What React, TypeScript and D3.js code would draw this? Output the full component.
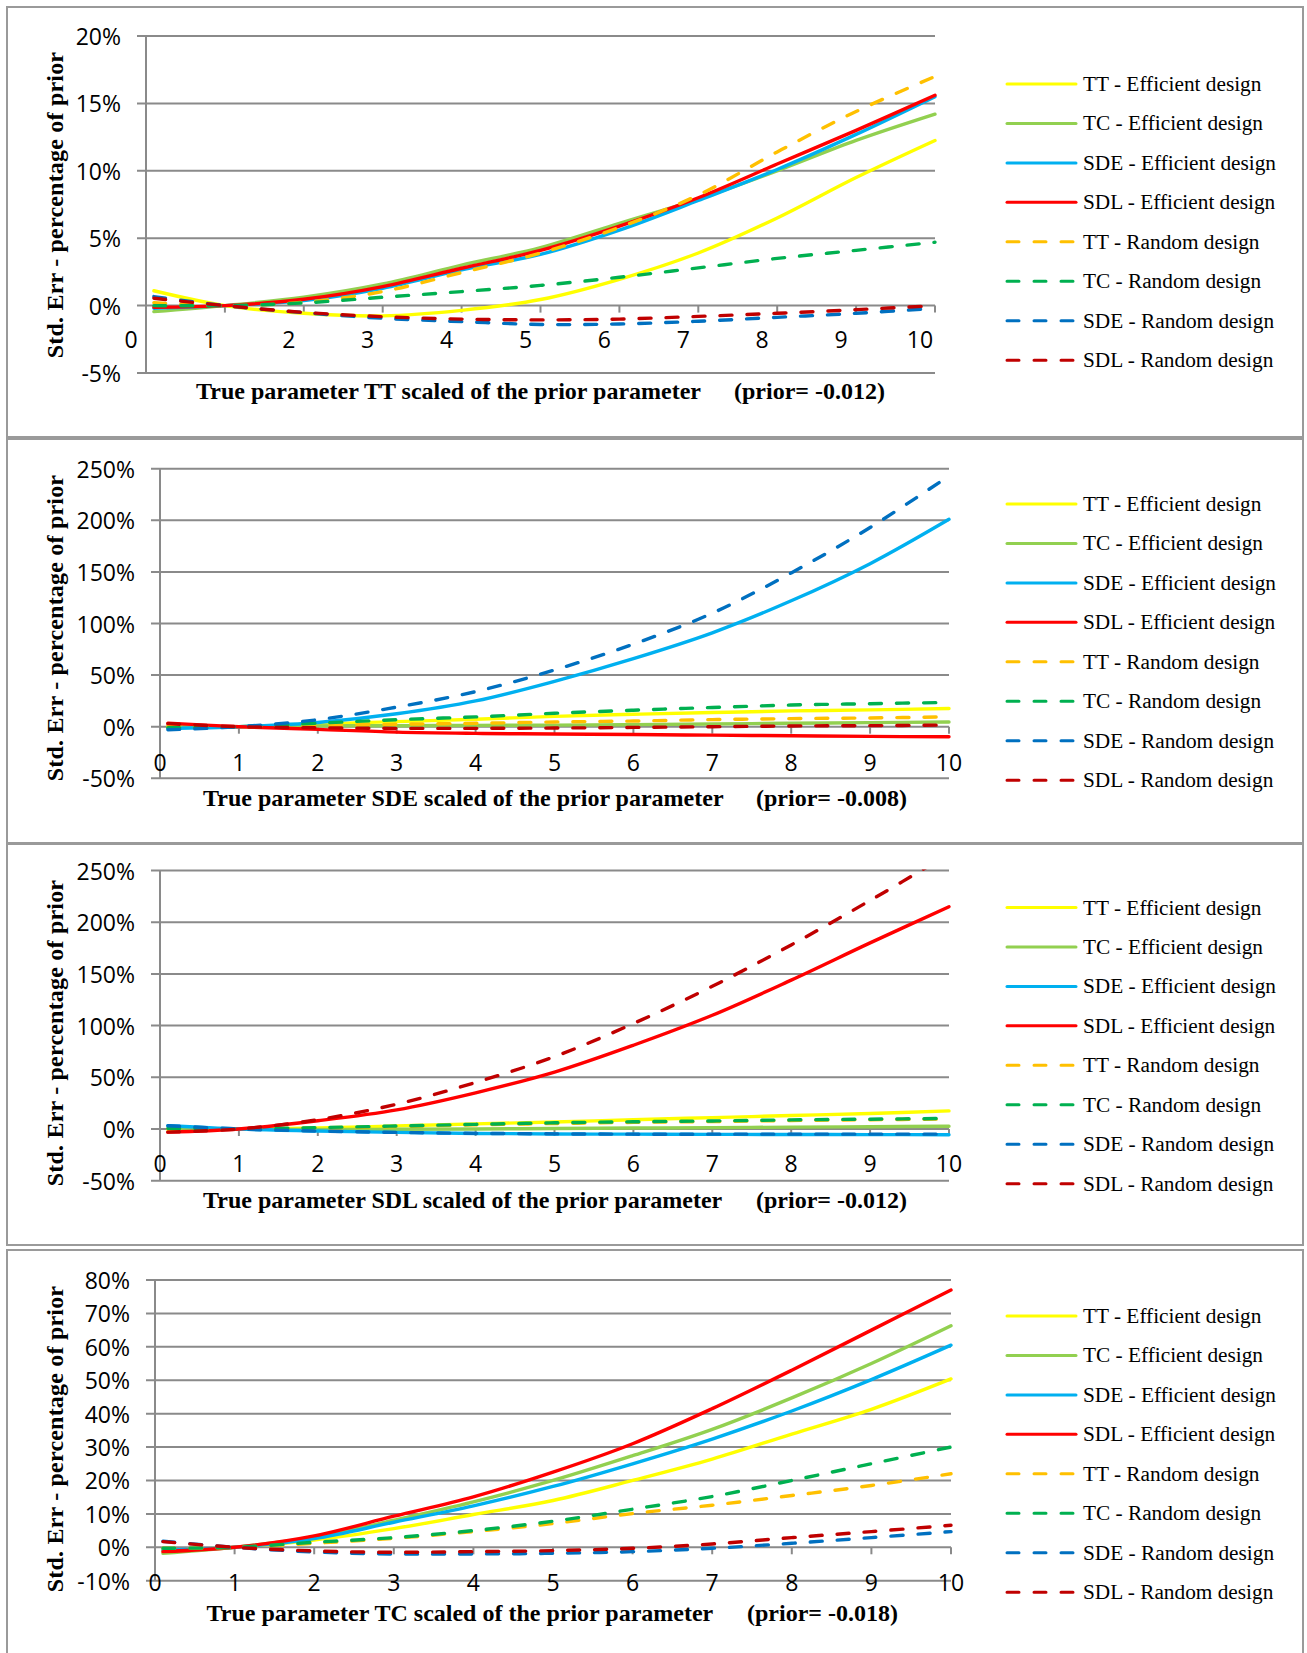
import React from "react";
import * as d3 from "d3";

// ---------- DATA ----------
const xValues = [0.1, 1, 2, 3, 4, 5, 6, 7, 8, 9, 10];
const xTickLabels = [0, 1, 2, 3, 4, 5, 6, 7, 8, 9, 10];
const seriesNames = [
  "TT - Efficient design",
  "TC - Efficient design",
  "SDE - Efficient design",
  "SDL - Efficient design",
  "TT - Random design",
  "TC - Random design",
  "SDE - Random design",
  "SDL - Random design",
];

// Panel 1: true parameter TT (values in %)
const tt_TTEff = [1.1, 0, -0.57, -0.76, -0.35, 0.45, 1.95, 3.9, 6.5, 9.5, 12.25];
const tt_TCEff = [-0.45, 0, 0.62, 1.6, 3.0, 4.3, 6.1, 7.9, 10.0, 12.25, 14.2];
const tt_SDEEff = [-0.2, 0, 0.37, 1.29, 2.65, 3.8, 5.6, 7.8, 10.1, 12.7, 15.5];
const tt_SDLEff = [-0.12, 0, 0.47, 1.41, 2.77, 4.1, 5.9, 8.0, 10.5, 13.0, 15.6];
const tt_TTRnd = [0.22, 0, 0.25, 1.04, 2.45, 3.9, 5.8, 8.2, 11.4, 14.4, 17.0];
const tt_TCRnd = [0, 0, 0.2, 0.62, 1.04, 1.5, 2.1, 2.8, 3.5, 4.1, 4.7];
const tt_SDERnd = [0.67, 0, -0.52, -0.94, -1.19, -1.4, -1.36, -1.16, -0.87, -0.57, -0.2];
const tt_SDLRnd = [0.55, 0, -0.5, -0.82, -1.0, -1.06, -1.0, -0.8, -0.57, -0.3, 0];

// Panel 2: true parameter SDE
const sde_TTEff = [0, 0, 2.6, 4.9, 7.2, 10, 12, 13.7, 15.3, 16.3, 17.6];
const sde_TCEff = [0, 0, 0.8, 0.9, 1.3, 1.5, 2, 2.6, 3.3, 3.9, 4.6];
const sde_SDEEff = [-1.6, 0, 4.1, 12.5, 25, 44, 66, 91, 122, 158, 201];
const sde_SDLEff = [3.5, 0, -2.6, -5.3, -6.5, -7.1, -7.6, -8.2, -8.8, -9.4, -9.8];
const sde_TTRnd = [0.5, 0, 1.4, 2.4, 3.3, 4.6, 5.5, 6.9, 7.8, 8.5, 9.5];
const sde_TCRnd = [-1, 0, 3.4, 6.8, 9.5, 13, 16, 18.6, 21, 22.3, 23.5];
const sde_SDERnd = [-3, 0, 6.8, 19, 34, 55, 80, 110, 149, 193, 243];
const sde_SDLRnd = [3, 0, -1, -1.6, -1.6, -1.3, -0.7, 0, 0.7, 1.0, 1.6];

// Panel 3: true parameter SDL
const sdl_TTEff = [-0.5, 0, 1, 3, 5, 6.8, 9, 11, 13, 15, 17.5];
const sdl_TCEff = [0, 0, -0.5, -0.3, 0, 0.5, 0.9, 1.3, 1.8, 2.2, 2.6];
const sdl_SDEEff = [3.2, 0, -2, -3.3, -4.3, -4.8, -5, -5.2, -5.3, -5.4, -5.5];
const sdl_SDLEff = [-3, 0, 8, 18.5, 35, 55, 81, 110, 144, 180, 215];
const sdl_TTRnd = [0, 0, 0.8, 2.4, 4, 5.3, 6.4, 7.2, 8.2, 9, 9.6];
const sdl_TCRnd = [0.6, 0, 1.3, 2.9, 4.5, 6, 7, 7.8, 8.8, 9.5, 10.2];
const sdl_SDERnd = [3.2, 0, -2, -3.3, -4.2, -4.7, -5, -5, -5, -5, -5];
const sdl_SDLRnd = [-3, 0, 9, 24, 45, 70, 102, 138, 178, 221, 266];

// Panel 4: true parameter TC
const tc_TTEff = [-1, 0, 2.2, 5.6, 9.8, 14, 20, 26.4, 33.9, 41.3, 50.4];
const tc_TCEff = [-1.8, 0, 3, 8.1, 13.6, 20, 27.4, 35.3, 44.7, 55, 66.3];
const tc_SDEEff = [-0.8, 0, 2.6, 7.5, 12.4, 18.2, 25, 32.4, 40.8, 50.2, 60.5];
const tc_SDLEff = [-1.3, 0, 3.4, 9.3, 15.1, 22.5, 31, 41.5, 53, 65, 77];
const tc_TTRnd = [-0.3, 0, 1.2, 2.7, 4.7, 7.1, 10.1, 12.6, 15.5, 18.5, 22];
const tc_TCRnd = [-0.3, 0, 1.5, 2.9, 5.0, 7.8, 11.4, 15.2, 20, 25, 30];
const tc_SDERnd = [1.8, 0, -1.4, -2, -2, -1.8, -1.3, -0.3, 1.2, 2.9, 4.7];
const tc_SDLRnd = [1.7, 0, -1.1, -1.5, -1.3, -1, -0.3, 1, 2.9, 4.7, 6.6];

const yTicksTT = [-5, 0, 5, 10, 15, 20];
const yTicksSDE = [-50, 0, 50, 100, 150, 200, 250];
const yTicksSDL = [-50, 0, 50, 100, 150, 200, 250];
const yTicksTC = [-10, 0, 10, 20, 30, 40, 50, 60, 70, 80];

// ---------- STYLE / LAYOUT ----------
const seriesStyle = [
  { color: "#FFFF00", dashed: false },
  { color: "#92D050", dashed: false },
  { color: "#00B0F0", dashed: false },
  { color: "#FF0000", dashed: false },
  { color: "#FFC000", dashed: true },
  { color: "#00B050", dashed: true },
  { color: "#0070C0", dashed: true },
  { color: "#C00000", dashed: true },
];

const panels = [
  {
    id: "tt",
    series: [tt_TTEff, tt_TCEff, tt_SDEEff, tt_SDLEff, tt_TTRnd, tt_TCRnd, tt_SDERnd, tt_SDLRnd],
    yTicks: yTicksTT,
    frame: [7, 437],
    xRange: [146, 935],
    yRange: [373, 36],
    xLabelDx: -15,
    xLabelY: 339,
    yTitleY: 205,
    xTitle: "True parameter TT scaled of the prior parameter",
    prior: "(prior= -0.012)",
    xTitleY: 391,
    xTitleStart: 196,
    xTitleEnd: 885,
    legendY: 84,
  },
  {
    id: "sde",
    series: [sde_TTEff, sde_TCEff, sde_SDEEff, sde_SDLEff, sde_TTRnd, sde_TCRnd, sde_SDERnd, sde_SDLRnd],
    yTicks: yTicksSDE,
    frame: [439, 843],
    xRange: [160, 949],
    yRange: [778.3, 468.7],
    xLabelDx: 0,
    xLabelY: 761.5,
    yTitleY: 628,
    xTitle: "True parameter SDE scaled of the prior parameter",
    prior: "(prior= -0.008)",
    xTitleY: 798,
    xTitleStart: 203,
    xTitleEnd: 907,
    legendY: 504,
  },
  {
    id: "sdl",
    series: [sdl_TTEff, sdl_TCEff, sdl_SDEEff, sdl_SDLEff, sdl_TTRnd, sdl_TCRnd, sdl_SDERnd, sdl_SDLRnd],
    yTicks: yTicksSDL,
    frame: [844, 1245],
    xRange: [160, 949],
    yRange: [1180.7, 870.5],
    xLabelDx: 0,
    xLabelY: 1163,
    yTitleY: 1033,
    xTitle: "True parameter SDL scaled of the prior parameter",
    prior: "(prior= -0.012)",
    xTitleY: 1199.5,
    xTitleStart: 203,
    xTitleEnd: 907,
    legendY: 907.5,
  },
  {
    id: "tc",
    series: [tc_TTEff, tc_TCEff, tc_SDEEff, tc_SDLEff, tc_TTRnd, tc_TCRnd, tc_SDERnd, tc_SDLRnd],
    yTicks: yTicksTC,
    frame: [1250, 1660],
    xRange: [155, 951],
    yRange: [1580.7, 1280],
    xLabelDx: 0,
    xLabelY: 1582,
    yTitleY: 1439,
    xTitle: "True parameter TC scaled of the prior parameter",
    prior: "(prior= -0.018)",
    xTitleY: 1612.5,
    xTitleStart: 206.5,
    xTitleEnd: 898,
    legendY: 1316,
  },
];

const GRID = "#8a8a8a";
const FRAME = "#9a9a9a";
const SANS = "'Open Sans', 'Noto Sans', sans-serif";
const SERIF = "'Liberation Serif', 'Times New Roman', serif";
const LINE_W = 3.4;

function Panel({ p }: { p: any }) {
  const yMin = p.yTicks[0];
  const yMax = p.yTicks[p.yTicks.length - 1];
  const x = d3.scaleLinear().domain([0, 10]).range(p.xRange);
  const y = d3.scaleLinear().domain([yMin, yMax]).range(p.yRange);
  const line = d3
    .line<number>()
    .x((_, i) => x(xValues[i]))
    .y((d) => y(d))
    .curve(d3.curveCatmullRom.alpha(0.5));
  const x0 = p.xRange[0];
  const x1 = p.xRange[1];
  const clipId = `clip-${p.id}`;
  const legendStep = 39.45;

  return (
    <g>
      <rect
        x={7}
        y={p.frame[0]}
        width={1296}
        height={p.frame[1] - p.frame[0]}
        fill="#fff"
        stroke={FRAME}
        strokeWidth={2}
      />
      <defs>
        <clipPath id={clipId}>
          <rect x={x0} y={y(yMax) - 1} width={x1 - x0 + 4} height={y(yMin) - y(yMax) + 2} />
        </clipPath>
      </defs>
      {p.yTicks.map((t: number) => (
        <line key={`g${t}`} x1={x0 - 9} x2={x1} y1={y(t)} y2={y(t)} stroke={GRID} strokeWidth={2} />
      ))}
      <line x1={x0} x2={x0} y1={y(yMax)} y2={y(yMin)} stroke={GRID} strokeWidth={2} />
      {xTickLabels.slice(1).map((t) => (
        <line key={`xt${t}`} x1={x(t)} x2={x(t)} y1={y(0)} y2={y(0) + 7} stroke={GRID} strokeWidth={2} />
      ))}
      {p.yTicks.map((t: number) => (
        <text
          key={`yl${t}`}
          x={x0 - 25}
          y={y(t)}
          textAnchor="end"
          dominantBaseline="central"
          fontFamily={SANS}
          fontSize={23}
          fill="#000"
        >
          {`${t}%`}
        </text>
      ))}
      {xTickLabels.map((t) => (
        <text
          key={`xl${t}`}
          x={x(t) + p.xLabelDx}
          y={p.xLabelY}
          textAnchor="middle"
          dominantBaseline="central"
          fontFamily={SANS}
          fontSize={23}
          fill="#000"
        >
          {t}
        </text>
      ))}
      <g clipPath={`url(#${clipId})`}>
        {p.series.map((vals: number[], i: number) => (
          <path
            key={`s${i}`}
            d={line(vals) || ""}
            fill="none"
            stroke={seriesStyle[i].color}
            strokeWidth={LINE_W}
            strokeLinecap="round"
            strokeLinejoin="round"
            strokeDasharray={seriesStyle[i].dashed ? "12 15" : undefined}
          />
        ))}
      </g>
      <text
        transform={`translate(55, ${p.yTitleY}) rotate(-90)`}
        textAnchor="middle"
        dominantBaseline="central"
        fontFamily={SERIF}
        fontWeight="bold"
        fontSize={24}
        letterSpacing={0.2}
        fill="#000"
      >
        Std. Err - percentage of prior
      </text>
      <text
        x={p.xTitleStart}
        y={p.xTitleY}
        dominantBaseline="central"
        fontFamily={SERIF}
        fontWeight="bold"
        fontSize={24}
        fill="#000"
      >
        {p.xTitle}
      </text>
      <text
        x={p.xTitleEnd}
        y={p.xTitleY}
        textAnchor="end"
        dominantBaseline="central"
        fontFamily={SERIF}
        fontWeight="bold"
        fontSize={24}
        fill="#000"
      >
        {p.prior}
      </text>
      {seriesNames.map((name, i) => {
        const ly = p.legendY + i * legendStep;
        return (
          <g key={`lg${i}`}>
            <line
              x1={1007}
              x2={seriesStyle[i].dashed ? 1074 : 1076}
              y1={ly}
              y2={ly}
              stroke={seriesStyle[i].color}
              strokeWidth={3}
              strokeLinecap="round"
              strokeDasharray={seriesStyle[i].dashed ? "12 15" : undefined}
            />
            <text x={1083} y={ly + 7} fontFamily={SERIF} fontSize={21.3} fill="#000">
              {name}
            </text>
          </g>
        );
      })}
    </g>
  );
}

export default function App() {
  return (
    <svg
      width={1307}
      height={1653}
      viewBox="0 0 1307 1653"
      style={{ position: "absolute", left: 0, top: 0, background: "#fff" }}
    >
      <rect x={0} y={0} width={1307} height={1653} fill="#fff" />
      {panels.map((p) => (
        <Panel key={p.id} p={p} />
      ))}
    </svg>
  );
}
